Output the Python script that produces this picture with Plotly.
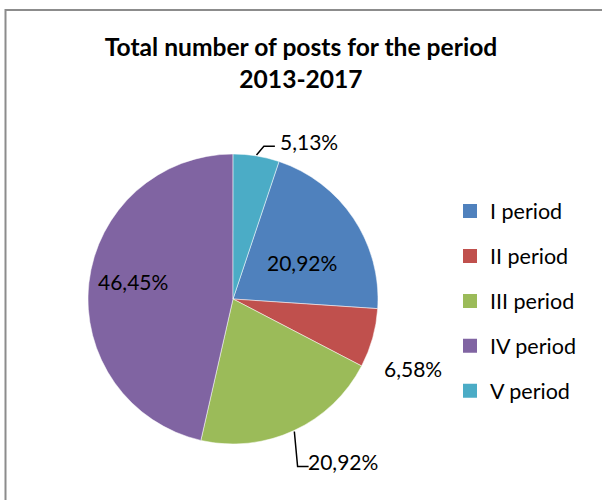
import math
import plotly.graph_objects as go

# data
periods = ["I period", "II period", "III period", "IV period", "V period"]
shares = [20.92, 6.58, 20.92, 46.45, 5.13]
colors = ["#4F81BD", "#C0504D", "#9BBB59", "#8064A2", "#4BACC6"]

# where Excel put each data label: distance from pie centre (px), angle (deg, clockwise from 12)
label_r = [78, 193, 196, 102, 175]
label_ang = [61.8, 111, 146, 280, 25.7]
leader = [False, False, True, False, True]

W, H = 602, 500
FONT = "Lato"
ROT = 18.5          # first slice angle
CX, CY, R = 233, 299, 145   # pie centre / radius in px

fig = go.Figure()

fig.add_trace(go.Pie(
    labels=periods,
    values=shares,
    sort=False,
    direction="clockwise",
    rotation=ROT,
    marker=dict(colors=colors, line=dict(color="white", width=0.5)),
    textinfo="none",
    domain=dict(x=[(CX - R) / W, (CX + R) / W], y=[(H - CY - R) / H, (H - CY + R) / H]),
    showlegend=False,
    hoverinfo="label+percent",
))

# legend entries (separate traces so the row spacing can be widened)
for name, col in zip(periods, colors):
    fig.add_trace(go.Scatter(
        x=[None], y=[None], mode="markers", name=name, legendgroup=name,
        marker=dict(symbol="square", size=14, color=col),
    ))


def to_paper(x, y):
    return x / W, 1 - y / H


annotations = []
shapes = [dict(
    type="rect", xref="paper", yref="paper",
    x0=5.5 / W, x1=1.05, y0=-0.05, y1=(H - 10) / H,
    line=dict(color="#8C8C8C", width=2), layer="below",
)]

total = sum(shares)
a = ROT
for v, r, ang, lead in zip(shares, label_r, label_ang, leader):
    mid = a + v / total * 180
    a += v / total * 360
    lx = CX + r * math.sin(math.radians(ang))
    ly = CY - r * math.cos(math.radians(ang))
    px, py = to_paper(lx, ly)
    annotations.append(dict(
        x=px, y=py, xref="paper", yref="paper", showarrow=False,
        text=f"{v:.2f}%".replace(".", ","),
        font=dict(family=FONT, size=21, color="black"),
        xanchor="center", yanchor="middle",
    ))
    if lead:
        sx = CX + (R + 1) * math.sin(math.radians(mid))
        sy = CY - (R + 1) * math.cos(math.radians(mid))
        pts = [(sx, sy), (lx - 45, ly + 5), (lx - 34, ly + 5)]
        path = "M " + " L ".join(f"{p[0] / W},{1 - p[1] / H}" for p in pts)
        shapes.append(dict(type="path", xref="paper", yref="paper", path=path,
                           line=dict(color="black", width=1.5)))

fig.update_layout(
    width=W, height=H,
    margin=dict(l=0, r=0, t=0, b=0),
    paper_bgcolor="white",
    plot_bgcolor="white",
    font=dict(family=FONT, color="black"),
    title=dict(
        text="<b>Total number of posts for the period<br>2013-2017</b>",
        x=0.5, xanchor="center", y=1 - 56 / H, yanchor="top",
        font=dict(family=FONT, size=24.6, color="black"),
    ),
    xaxis=dict(visible=False),
    yaxis=dict(visible=False),
    legend=dict(
        x=450 / W, xanchor="left", y=(H - 301) / H, yanchor="middle",
        font=dict(family=FONT, size=21.5, color="black"),
        tracegroupgap=14, bgcolor="rgba(0,0,0,0)",
    ),
    annotations=annotations,
    shapes=shapes,
)

# drop the default 8px body margin so the figure sits at the window's corner
fig.write_html("out.html", config={"displayModeBar": False},
               post_script="document.body.style.margin='0';")
